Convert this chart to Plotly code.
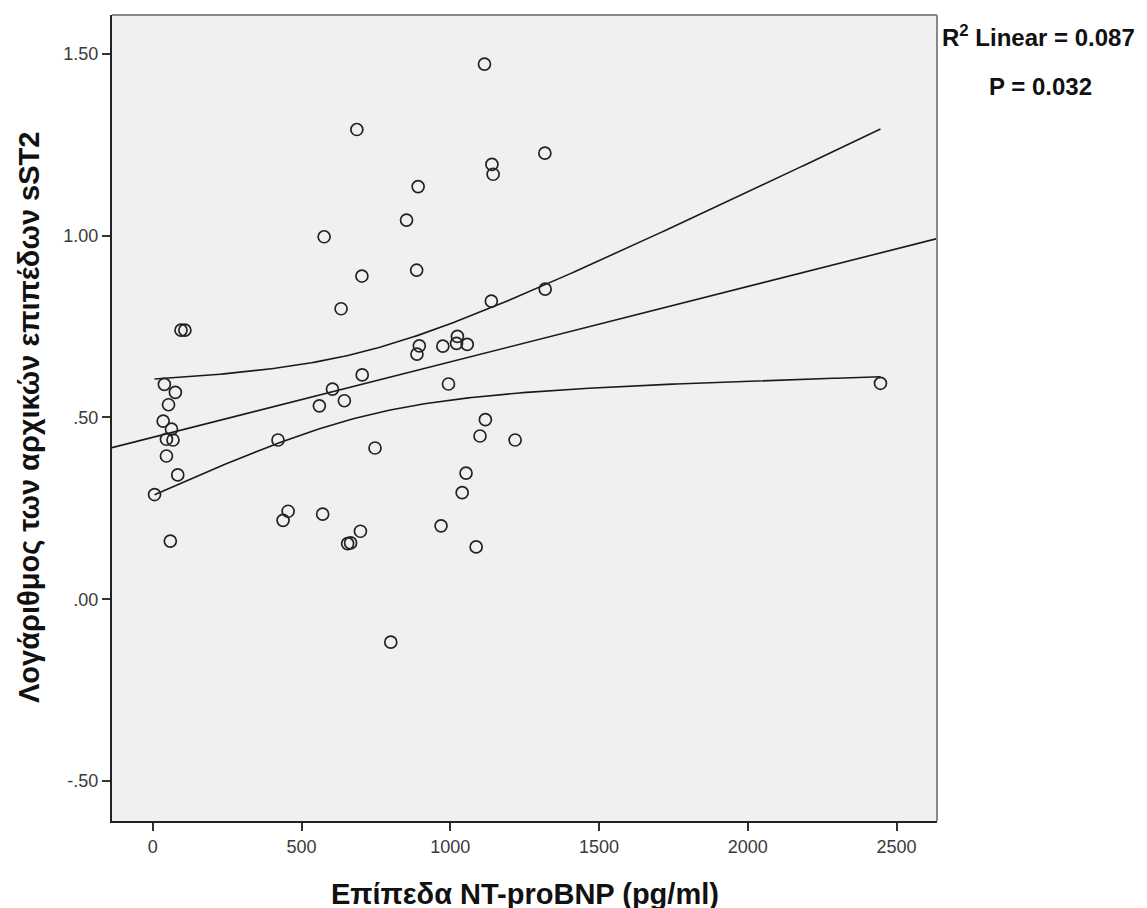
import numpy as np
import plotly.graph_objects as go

# Data
nt_probnp = [95, 108, 39, 76, 53, 35, 63, 46, 68, 46, 84, 6, 59,
             421, 604, 560, 644, 455, 438, 571, 655,
             853, 576, 703, 887, 633, 1138, 896, 888, 975, 1024, 1021, 1057,
             704, 994, 747, 1118, 1100, 1053, 1040, 969, 698, 665, 1087, 1218,
             1115, 686, 1318, 1140, 1144, 892, 1319, 800, 2446]
log_sst2 = [0.740, 0.740, 0.591, 0.569, 0.535, 0.490, 0.468, 0.440, 0.438, 0.394, 0.342, 0.288, 0.160,
            0.438, 0.578, 0.532, 0.546, 0.242, 0.217, 0.234, 0.153,
            1.043, 0.997, 0.889, 0.905, 0.799, 0.820, 0.697, 0.674, 0.696, 0.723, 0.704, 0.701,
            0.617, 0.592, 0.416, 0.494, 0.449, 0.347, 0.293, 0.202, 0.187, 0.155, 0.144, 0.438,
            1.472, 1.292, 1.227, 1.196, 1.169, 1.135, 0.853, -0.118, 0.594]

x_ticks = [0, 500, 1000, 1500, 2000, 2500]
x_ticktext = ["0", "500", "1000", "1500", "2000", "2500"]
y_ticks = [-0.5, 0.0, 0.5, 1.0, 1.5]
y_ticktext = ["-.50", ".00", ".50", "1.00", "1.50"]

x_title = "Επίπεδα NT-proBNP (pg/ml)"
y_title = "Λογάριθμος των αρχικών επιπέδων sST2"
r2_text = "R<sup>2</sup> Linear = 0.087"
p_text = "P = 0.032"

x_range = [-137, 2636]
y_range = [-0.610, 1.607]

# Linear fit and 95% CI of the mean (as SPSS draws it)
x = np.array(nt_probnp, dtype=float)
y = np.array(log_sst2, dtype=float)
n = len(x)
b1, b0 = np.polyfit(x, y, 1)
resid = y - (b0 + b1 * x)
s = np.sqrt(np.sum(resid ** 2) / (n - 2))
sxx = np.sum((x - x.mean()) ** 2)
t_crit = 2.0066  # t(0.975, df=52)

xf = np.linspace(x_range[0], x_range[1], 200)
yf = b0 + b1 * xf
xc = np.linspace(x.min(), x.max(), 200)
yc = b0 + b1 * xc
half = t_crit * s * np.sqrt(1.0 / n + (xc - x.mean()) ** 2 / sxx)

fig = go.Figure()
line_style = dict(color="#1a1a1a", width=1.6)
fig.add_trace(go.Scatter(x=xf, y=yf, mode="lines", line=line_style, hoverinfo="skip"))
fig.add_trace(go.Scatter(x=xc, y=yc + half, mode="lines", line=line_style, hoverinfo="skip"))
fig.add_trace(go.Scatter(x=xc, y=yc - half, mode="lines", line=line_style, hoverinfo="skip"))
fig.add_trace(go.Scatter(
    x=nt_probnp, y=log_sst2, mode="markers",
    marker=dict(symbol="circle-open", size=12, color="#222222", line=dict(width=1.7)),
))

axis_font = dict(family="Liberation Sans, Arial", size=18, color="#3a3a3a")
fig.update_layout(
    width=1147, height=908,
    margin=dict(l=104, r=218, t=7, b=95),
    paper_bgcolor="white",
    plot_bgcolor="#f0f0f0",
    showlegend=False,
    xaxis=dict(range=x_range, tickvals=x_ticks, ticktext=x_ticktext, showgrid=False, zeroline=False,
               ticks="outside", ticklen=8, tickwidth=2, tickcolor="#333333",
               showline=True, linecolor="#222222", linewidth=2, tickfont=axis_font),
    yaxis=dict(range=y_range, tickvals=y_ticks, ticktext=y_ticktext, showgrid=False, zeroline=False,
               ticks="outside", ticklen=8, tickwidth=2, tickcolor="#333333",
               showline=True, linecolor="#222222", linewidth=2, tickfont=axis_font),
    shapes=[
        dict(type="line", xref="paper", yref="paper", x0=0, x1=1, y0=1, y1=1,
             line=dict(color="#888888", width=2)),
        dict(type="line", xref="paper", yref="paper", x0=1, x1=1, y0=0, y1=1,
             line=dict(color="#888888", width=2)),
    ],
    annotations=[
        dict(text=r2_text, xref="paper", yref="paper", x=1.0036, y=0.974, xanchor="left", yanchor="middle",
             showarrow=False, font=dict(family="Liberation Sans, Arial", size=24,
                                        color="#111111", weight="bold")),
        dict(text=p_text, x=1.125, xref="paper", y=0.9107, yref="paper", xanchor="center", yanchor="middle",
             showarrow=False, font=dict(family="Liberation Sans, Arial", size=24,
                                        color="#111111", weight="bold")),
        dict(text=x_title, xref="paper", yref="paper", x=0.5, y=-0.09, xanchor="center", yanchor="middle",
             showarrow=False, font=dict(family="Liberation Sans, Arial", size=29,
                                        color="#111111", weight="bold")),
        dict(text=y_title, xref="paper", yref="paper", x=-0.1006, y=0.5, xanchor="center", yanchor="middle",
             textangle=-90, showarrow=False,
             font=dict(family="Liberation Sans, Arial", size=29, color="#111111", weight="bold")),
    ],
)

fig.write_html("out.html")
